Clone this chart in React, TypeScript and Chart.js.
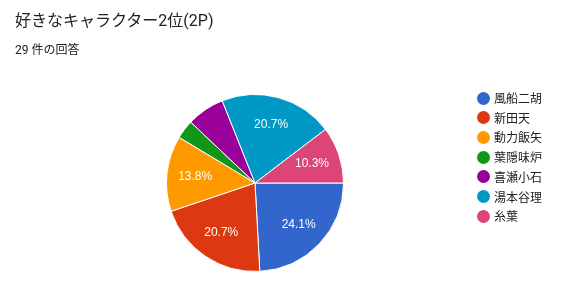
import React, { useEffect, useRef } from "react";
import { Chart, registerables } from "chart.js";

Chart.register(...registerables);

const title = "好きなキャラクター2位(2P)";
const subtitle = "29 件の回答";
const categories = ["風船二胡", "新田天", "動力飯矢", "葉隠味炉", "喜瀬小石", "湯本谷理", "糸葉"];
const counts = [7, 6, 4, 1, 2, 6, 3];
const colors = ["#3366CC", "#DC3912", "#FF9900", "#109618", "#990099", "#0099C6", "#DD4477"];

const labelPlugin = {
  id: "pctLabels",
  afterDatasetsDraw(chart: any) {
    const ctx = chart.ctx;
    const meta = chart.getDatasetMeta(0);
    const data = chart.data.datasets[0].data as number[];
    const total = data.reduce((a, b) => a + b, 0);
    ctx.save();
    ctx.fillStyle = "#ffffff";
    ctx.font = '12px "Liberation Sans", Arial, sans-serif';
    ctx.textAlign = "center";
    ctx.textBaseline = "middle";
    meta.data.forEach((arc: any, i: number) => {
      const pct = (data[i] / total) * 100;
      if (pct < 9) return;
      const p = arc.getProps(["x", "y", "startAngle", "endAngle", "outerRadius"], true);
      const mid = (p.startAngle + p.endAngle) / 2;
      const r = p.outerRadius * 0.68;
      ctx.fillText(pct.toFixed(1) + "%", p.x + Math.cos(mid) * r, p.y + Math.sin(mid) * r);
    });
    ctx.restore();
  },
};

export default function App() {
  const ref = useRef<HTMLCanvasElement>(null);
  useEffect(() => {
    if (!ref.current) return;
    const chart = new Chart(ref.current, {
      type: "pie",
      data: {
        labels: categories,
        datasets: [
          {
            data: counts,
            backgroundColor: colors,
            borderColor: "#ffffff",
            borderWidth: 1,
          },
        ],
      },
      options: {
        responsive: false,
        animation: false,
        rotation: 90,
        layout: { padding: { left: 166, right: 231, top: 93, bottom: 17 } },
        plugins: { legend: { display: false }, tooltip: { enabled: false } },
      },
      plugins: [labelPlugin],
    });
    return () => chart.destroy();
  }, []);

  const cjk = '"Noto Sans CJK JP", Roboto, Arial, sans-serif';
  return (
    <div style={{ position: "absolute", left: 0, top: 0, width: 575, height: 290, background: "#fff", overflow: "hidden" }}>
      <canvas ref={ref} width={575} height={290} style={{ position: "absolute", left: 0, top: 0 }} />
      <div style={{ position: "absolute", left: 15, top: 10, fontFamily: '"Roboto", "Noto Sans CJK JP", sans-serif', fontSize: 16, color: "#202124", lineHeight: "22px", whiteSpace: "nowrap" }}>
        {title}
      </div>
      <div style={{ position: "absolute", left: 15, top: 42, fontFamily: '"Roboto", "Noto Sans CJK JP", sans-serif', fontSize: 12, color: "#202124", lineHeight: "16px", whiteSpace: "nowrap" }}>
        {subtitle}
      </div>
      {categories.map((c, i) => (
        <div key={c} style={{ position: "absolute", left: 477, top: 91 + i * 19.7, height: 14, display: "flex", alignItems: "center", whiteSpace: "nowrap" }}>
          <span style={{ display: "inline-block", width: 13, height: 13, borderRadius: "50%", background: colors[i] }} />
          <span style={{ marginLeft: 4, fontFamily: cjk, fontSize: 12, color: "#222", lineHeight: "14px" }}>{c}</span>
        </div>
      ))}
    </div>
  );
}
